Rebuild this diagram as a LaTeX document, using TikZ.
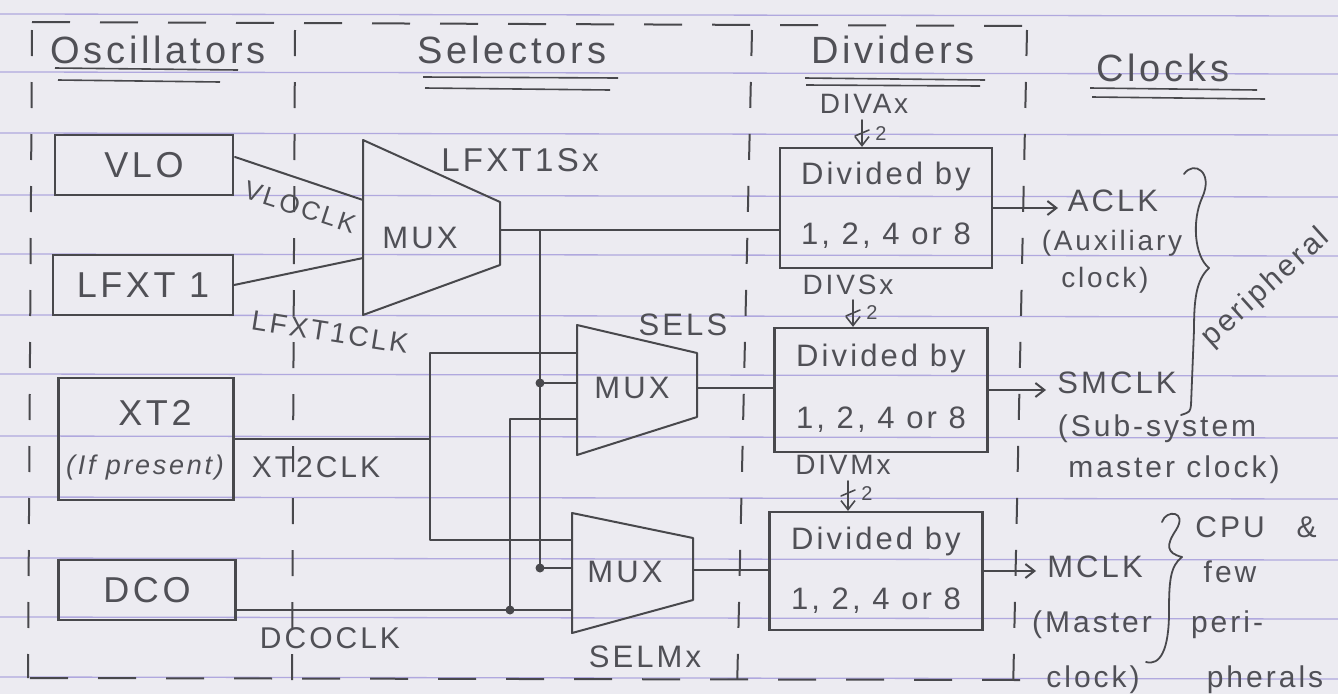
\documentclass[tikz,border=0pt]{standalone}
\usepackage{fontspec}
\setmainfont{Liberation Sans}[LetterSpace=10]
\usetikzlibrary{arrows.meta}
\definecolor{paper}{RGB}{236,235,241}
\definecolor{rule}{RGB}{176,168,222}
\definecolor{inkc}{RGB}{72,72,76}
\definecolor{textc}{RGB}{80,80,86}
\begin{document}
\begin{tikzpicture}[x=1pt,y=-1pt,
  ink/.style={draw=inkc, line width=2pt, line cap=round, line join=round},
  frameline/.style={draw=inkc, line width=2pt, dash pattern=on 38pt off 30pt},
  vdashed/.style={draw=inkc, line width=2pt, dash pattern=on 26pt off 26pt},
  box/.style={draw=inkc, line width=2.2pt, inner sep=0pt},
  txt/.style={text=textc, inner sep=0pt, font=\fontsize{31}{34}\selectfont},
  big/.style={text=textc, inner sep=0pt, font=\fontsize{36}{40}\selectfont},
  head/.style={text=textc, inner sep=0pt, font=\fontsize{38}{42}\selectfont},
  small/.style={text=textc, inner sep=0pt, font=\fontsize{28}{32}\selectfont},
  lab/.style={text=textc, inner sep=0pt, font=\fontsize{30}{34}\selectfont},
  tip/.style={-{Straight Barb[length=9pt,width=14pt]}},
  jdot/.style={fill=inkc, circle, inner sep=0pt, minimum size=9pt}
]
% paper
\fill[paper] (0,0) rectangle (1338,694);
\useasboundingbox (0,0) rectangle (1338,694);
\foreach \yy in {14,72,133,195,254,315,374,436,497,558,617,677}
  \draw[rule, line width=1.3pt] (0,\yy) -- (1338,\yy+2);

% dashed frame
\draw[frameline] (32,22) -- (1027,26);
\draw[frameline] (30,678) -- (1020,680);
\draw[vdashed] (32,30) -- (28,678);
\draw[vdashed] (295,30) -- (292,690);
\draw[vdashed] (752,30) -- (737,692);
\draw[vdashed] (1027,30) -- (1013,694);

% headings
\node[head] (hosc) at (158,50) {Oscillators};
\draw[inkc, line width=1.6pt] (55,68) -- (238,70) (58,80) -- (220,82);
\node[head] (hsel) at (512,50) {Selectors};
\draw[inkc, line width=1.6pt] (423,77) -- (618,78) (425,88) -- (610,90);
\node[head] (hdiv) at (893,50) {Dividers};
\draw[inkc, line width=1.6pt] (805,78) -- (985,80) (806,85) -- (980,86);
\node[head] (hclk) at (1163,68) {Clocks};
\draw[inkc, line width=1.6pt] (1090,88) -- (1257,90) (1092,97) -- (1265,99);

% oscillators
\node[box, minimum width=178pt, minimum height=60pt, big] (vlo) at (144,165) {VLO};
\node[box, minimum width=180pt, minimum height=60pt, big] (lfxt) at (143,285) {LFXT 1};
\node[box, minimum width=175pt, minimum height=122pt] (xt2) at (146,439) {};
\node[big] (xt2a) at (155,413) {XT2};
\node[text=textc, inner sep=0pt, font=\itshape\fontsize{27}{30}\selectfont] (xt2b) at (145,468) {(If present)};
\node[box, minimum width=177pt, minimum height=60pt, big] (dco) at (147,590) {DCO};

% dividers
\node[box, minimum width=212pt, minimum height=120pt] (diva) at (886,208) {};
\node[txt] (da1) at (886,176) {Divided by};
\node[txt] (da2) at (886,236) {1, 2, 4 or 8};
\node[box, minimum width=213pt, minimum height=124pt] (divs) at (881,390) {};
\node[txt] (ds1) at (881,358) {Divided by};
\node[txt] (ds2) at (881,420) {1, 2, 4 or 8};
\node[box, minimum width=213pt, minimum height=118pt] (divm) at (876,571) {};
\node[txt] (dm1) at (876,541) {Divided by};
\node[txt] (dm2) at (876,601) {1, 2, 4 or 8};

% MUX 1
\draw[ink] (363,140) -- (500,202) -- (500,265) -- (363,315) -- cycle;
\node[txt] (mux1) at (420,238) {MUX};
\coordinate (m1a) at (363,200);
\coordinate (m1b) at (363,258);
\coordinate (m1o) at (500,230);
% MUX 2
\draw[ink] (577,325) -- (697,353) -- (697,417) -- (577,455) -- cycle;
\node[txt] (mux2) at (632,388) {MUX};
\coordinate (m2a) at (577,353);
\coordinate (m2b) at (577,383);
\coordinate (m2c) at (577,419);
\coordinate (m2o) at (697,388);
% MUX 3
\draw[ink] (572,513) -- (693,538) -- (693,600) -- (572,633) -- cycle;
\node[txt] (mux3) at (625,572) {MUX};
\coordinate (m3a) at (572,540);
\coordinate (m3b) at (572,568);
\coordinate (m3c) at (572,610);
\coordinate (m3o) at (693,570);

% selector labels
\node[txt, font=\fontsize{33}{36}\selectfont] (lfs) at (520,160) {LFXT1Sx};
\node[txt] (sels) at (683,325) {SELS};
\node[txt] (selm) at (645,657) {SELMx};

% oscillator wires
\coordinate (vlo1) at (235,157);
\draw[ink] (vlo1) -- (m1a);
\draw[ink] (lfxt.east) -- (m1b);
\node[text=textc, inner sep=0pt, font=\fontsize{26}{30}\selectfont, rotate=-18] (vlock) at (300,207) {VLOCLK};
\node[small, rotate=-9] (lfck) at (330,332) {LFXT1CLK};

% mux1 output and distribution
\coordinate (j1) at (540,230);
\node[jdot] (d1) at (540,383) {};
\node[jdot] (d2) at (540,568) {};
\node[jdot] (d3) at (510,610) {};
\draw[ink] (m1o) -- (m1o -| diva.west);
\draw[ink] (j1) -- (d2.center) -- (m3b);
\draw[ink] (d1.center) -- (m2b);

% XT2 wires
\coordinate (x2j) at (430,439);
\draw[ink] (xt2.east) -- (x2j);
\draw[ink] (m2a) -| (x2j) |- (m3a);
\node[lab] (xt2ck) at (316,467) {XT2CLK};

% DCO wires
\draw[ink] (dco.east |- m3c) -- (m3c);
\draw[ink] (d3.center) |- (m2c);
\node[lab] (dcock) at (330,638) {DCOCLK};

\draw[ink] (m2o) -- (m2o -| divs.west);
\draw[ink] (m3o) -- (m3o -| divm.west);

% divider control labels
\node[small] (dvax) at (864,104) {DIVAx};
\coordinate (ba) at (862,120);
\draw[ink, line width=1.6pt, tip] (ba) -- (diva.north -| ba);
\draw[ink, line width=1.6pt] (855,136) -- (869,130);
\node[text=textc, inner sep=0pt, font=\fontsize{20}{22}\selectfont] (n2a) at (881,134) {2};

\node[small] (dvsx) at (848,285) {DIVSx};
\coordinate (bs) at (853,300);
\draw[ink, line width=1.6pt, tip] (bs) -- (divs.north -| bs);
\draw[ink, line width=1.6pt] (846,316) -- (860,310);
\node[text=textc, inner sep=0pt, font=\fontsize{20}{22}\selectfont] (n2s) at (872,313) {2};

\node[small] (dvmx) at (843,465) {DIVMx};
\coordinate (bm) at (848,481);
\draw[ink, line width=1.6pt, tip] (bm) -- (divm.north -| bm);
\draw[ink, line width=1.6pt] (841,496) -- (855,490);
\node[text=textc, inner sep=0pt, font=\fontsize{20}{22}\selectfont] (n2m) at (867,494) {2};

% clocks
\node[txt] (aclk) at (1113,201) {ACLK};
\node[small] (aux1) at (1112,243) {(Auxiliary};
\node[small] (aux2) at (1105,280) {clock)};
\coordinate (aend) at (1058,208);
\draw[ink, tip] (diva.east) -- (aend);

\node[txt] (smclk) at (1117,383) {SMCLK};
\node[lab] (sub1) at (1157,429) {(Sub-system};
\node[lab] (sub2) at (1174,470) {master clock)};
\coordinate (send) at (1046,390);
\draw[ink, tip] (divs.east) -- (send);

\node[txt] (mclk) at (1095,567) {MCLK};
\node[lab] (ms1) at (1092,625) {(Master};
\node[lab] (ms2) at (1093,680) {clock)};
\coordinate (mend) at (1036,571);
\draw[ink, tip] (divm.east) -- (mend);

% braces
\draw[ink, line width=1.8pt] (1184,174) .. controls (1194,160) and (1214,172) .. (1202,198)
  .. controls (1192,220) and (1194,256) .. (1209,268)
  .. controls (1196,280) and (1194,300) .. (1194,330)
  -- (1191,405) .. controls (1190,412) .. (1181,415);
\node[lab, rotate=42] (periph) at (1266,288) {peripheral};

\draw[ink, line width=1.8pt] (1162,522) .. controls (1166,509) and (1188,511) .. (1176,530)
  .. controls (1166,545) and (1166,553) .. (1182,557)
  .. controls (1170,566) and (1169,582) .. (1169,612)
  .. controls (1169,650) and (1160,666) .. (1146,662);
\node[lab] (cpu) at (1256,527) {CPU\hspace{32pt}\&};
\node[lab] (few) at (1230,572) {few};
\node[lab] (peri) at (1227,625) {peri-};
\node[lab] (pher) at (1265,680) {pherals};
\end{tikzpicture}
\end{document}
